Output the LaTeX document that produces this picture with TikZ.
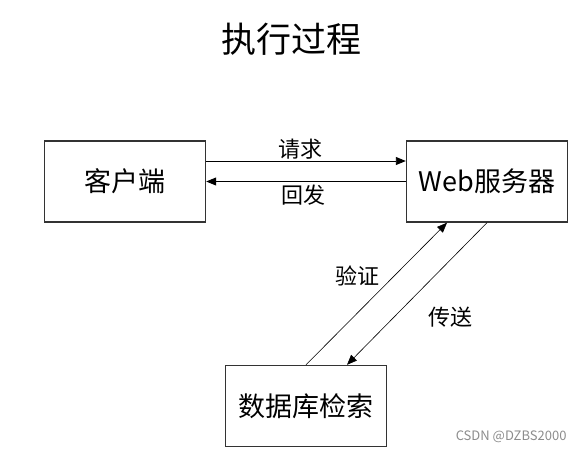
\documentclass[tikz,border=0pt]{standalone}
\usepackage{fontspec}
\newfontfamily\cjk{Noto Sans CJK SC}
\usepackage{tikz}
\usetikzlibrary{arrows.meta,positioning}

\begin{document}
\begin{tikzpicture}[
    x=1pt, y=-1pt,
    box/.style={draw=black!80, line width=1.4pt, minimum width=161pt, minimum height=81pt,
      font=\cjk\fontsize{27}{27}\selectfont},
    lbl/.style={inner sep=0pt, font=\cjk\fontsize{22}{22}\selectfont},
    arr/.style={-{Triangle[length=10pt,width=8pt]}, line width=0.9pt},
    diag/.style={-{Triangle[length=10pt,width=8pt]}, line width=0.6pt}
  ]
    \useasboundingbox (0,0) rectangle (585,453);
    \node[font=\cjk\fontsize{35}{35}\selectfont] (title) at (291,39) {执行过程};
    \node[box] (client) at (125,181.5) {客户端};
    \node[box] (web) at (487,181.5) {Web服务器};
    \node[box] (db) at (306,406) {数据库检索};
    % request / reply
    \draw[arr] ([yshift=20.5pt]client.east) -- node[lbl, above=1pt, xshift=-6pt] (req) {请求} ([yshift=20.5pt]web.west);
    \draw[arr] ([yshift=0pt]web.west) -- node[lbl, below=3pt, xshift=-3pt] (rep) {回发} ([yshift=0pt]client.east);
    % check / transfer
    \draw[diag] (db.north) -- node[lbl, above left=7pt and -3pt] (chk) {验证} ([xshift=-40pt]web.south);
    \draw[diag] (web.south) -- node[lbl, below right=13pt and 11pt] (snd) {传送} ([xshift=41pt]db.north);
    \node[font=\cjk\fontsize{13}{13}\selectfont, text=black!45, anchor=east] (mark) at (570,437) {CSDN @DZBS2000};
\end{tikzpicture}
\end{document}
